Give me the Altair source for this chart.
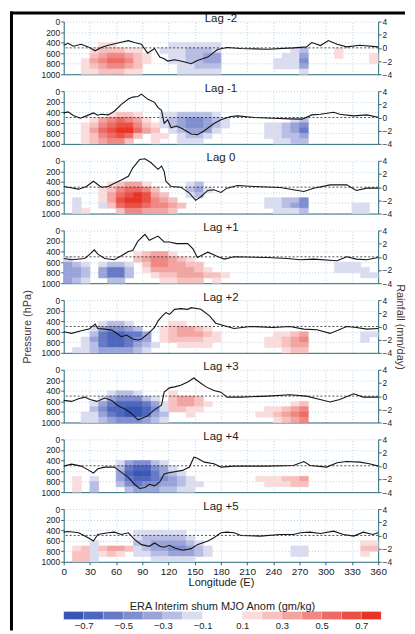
import altair as alt
import pandas as pd

# ---------------------------------------------------------------- data
LAGS = ["Lag -2", "Lag -1", "Lag 0", "Lag +1", "Lag +2", "Lag +3", "Lag +4", "Lag +5"]
PLEV = [300, 400, 500, 600, 700, 800, 900, 1000]          # row edges (hPa)
LON_STEP = 10                                              # column width (deg)
LON_TICKS = [0, 30, 60, 90, 120, 150, 180, 210, 240, 270, 300, 330, 360]
P_TICKS = [0, 200, 400, 600, 800, 1000]
R_TICKS = [-4, -2, 0, 2, 4]

# colour classes of the shum anomaly (gm/kg)
THRESH = [-0.7, -0.6, -0.5, -0.4, -0.3, -0.2, -0.1, 0.0, 0.1, 0.2, 0.3, 0.4, 0.5, 0.6, 0.7]
COLORS = ["#3956b5", "#4e67be", "#6679c6", "#7f8ecf", "#99a3d8", "#b7bde4", "#dadcf0", "#ffffff",
          "#ffffff", "#fadcdc", "#f6c1bf", "#f2a4a1", "#ef8783", "#ec6b65", "#ea5045", "#e83425"]
CB_LO = [-0.8, -0.7, -0.6, -0.5, -0.4, -0.3, -0.2, -0.1, 0.0, 0.1, 0.2, 0.3, 0.4, 0.5, 0.6, 0.7]
CB_HI = [-0.7, -0.6, -0.5, -0.4, -0.3, -0.2, -0.1, 0.0, 0.1, 0.2, 0.3, 0.4, 0.5, 0.6, 0.7, 0.8]
CB_MID = [-0.75, -0.65, -0.55, -0.45, -0.35, -0.25, -0.15, -0.05, 0.05, 0.15, 0.25, 0.35, 0.45, 0.55, 0.65, 0.75]
CB_LABELS = [-0.7, -0.5, -0.3, -0.1, 0.1, 0.3, 0.5, 0.7]
CB_TITLE = "ERA Interim shum MJO Anom (gm/kg)"

# class codes used in the grids below ('.' = no anomaly)
CODE = {".": 0.0,
        "1": 0.05, "2": 0.15, "3": 0.25, "4": 0.35, "5": 0.45, "6": 0.55, "7": 0.65, "8": 0.75,
        "a": -0.05, "b": -0.15, "c": -0.25, "d": -0.35, "e": -0.45, "f": -0.55, "g": -0.65, "h": -0.75}

# rows: 300-400 ... 900-1000 hPa ; columns: 0-10E ... 350-360E
GRID_M2 = ["..........|..........|..........|......",
           "....22....|..bbbbbb..|..........|......",
           "...233322.|.bbbcccb..|......bc..|.2....",
           "...3455432|..bbccdd..|.....bbd..|.2...2",
           "..24566532|..bbccdd..|....bbbe..|.....2",
           "..2345543.|...bbccc..|....bbbd..|......",
           "..2233322.|...bbbbb..|.......b..|......"]
GRID_M1 = ["..........|..........|..........|......",
           ".....2332.|.bbccccb..|..........|......",
           "...2456542|.bcdeedcb.|......bc..|......",
           "..23567753|2bcdeedcb.|...bbcde..|......",
           "..24678864|3.bcdddb..|...bbcdf..|......",
           "..2356763.|22.bccb...|...bbccd..|......",
           "..234553..|2..bbb....|....bbcc..|......"]
GRID_0 = ["..........|..........|..........|......",
          ".....23442|....bc....|..........|......",
          "....235665|3...cdb...|..........|......",
          "....246787|43..bc....|..........|......",
          ".b..247887|543.......|...bbcce..|......",
          ".b..b36776|5543......|...bbcde..|...bb.",
          ".b2...3554|443.......|....bbbc..|...bb."]
GRID_P1 = ["..........|..........|..........|......",
           "........23|442.......|..........|......",
           "b.......34|55432.....|..........|......",
           "dcb.bccb.3|554433....|..........|.bbb..",
           "ddc.dffc.2|4444432...|..........|.bbbb.",
           "ddc.dffc..|233444332.|..........|....bb",
           "dcb..cc...|.22333.2..|..........|......"]
GRID_P2 = ["..........|..........|..........|......",
           "....bccb..|..22......|..........|......",
           "...bdeedc.|.234432...|..........|......",
           "...cfggffd|.2344432..|....2234..|....bb",
           "..bdfggfed|.2333322..|...22345..|....b.",
           "..bcfggfdc|b..2222...|...22344..|......",
           ".bbcddddcb|..........|.....233..|......"]
GRID_P3 = ["..........|..........|..........|......",
           ".....bccb.|..2.......|..........|......",
           "....bdeeec|b.3443....|..........|......",
           "...bdfgggf|db34432...|......23..|......",
           "...cegghhg|eb3322....|...22345..|......",
           "..bbdfghhg|dc..2.....|..223456..|......",
           "..bbcdeeed|cb........|....2345..|......"]
GRID_P4 = ["..........|..........|..........|......",
           "......bdee|cb........|..........|......",
           "......cfgg|edb.......|..........|......",
           "......dghh|fdcb......|..........|......",
           ".2.b..dfgg|fedcb.....|..222334..|......",
           ".2.c..cefe|eddcbb....|...22233..|......",
           ".2.c...cdd|dccbb.....|..........|......"]
GRID_P5 = ["..........|..........|..........|......",
           "........bb|bbbb......|..........|......",
           "........bc|ccccb.....|..........|......",
           "...b....cc|ddddcb....|..........|....22",
           ".23b3443bc|ddeedcb...|......bb..|....33",
           ".33b232.bb|ccdddcb...|......bb..|....2.",
           ".33b......|bbbbb.....|..........|......"]
GRIDS = [GRID_M2, GRID_M1, GRID_0, GRID_P1, GRID_P2, GRID_P3, GRID_P4, GRID_P5]

# rainfall anomaly (mm/day) along longitude
LON_M2 = [0, 5, 11, 20, 28, 36, 43, 51, 62, 74, 81, 89, 96, 104, 110, 115, 119, 127, 134, 146, 153, 165, 176, 187, 203, 233, 263, 278, 284, 294, 303, 313, 324, 339, 360]
RAIN_M2 = [0.4, 0.7, 0.25, 0.55, 0.15, -0.45, 0.05, 0.4, 0.75, 1.1, 0.8, 0.55, -0.8, -0.1, -1.4, -1.65, -2.0, -1.8, -2.0, -2.4, -1.9, -1.4, -0.25, 0.05, -0.1, -0.2, 0.0, 0.15, 0.8, 0.35, 1.1, 0.55, 0.15, 0.4, 0.15]
LON_M1 = [0, 5, 11, 19, 26, 34, 39, 43, 51, 58, 66, 74, 79, 85, 89, 96, 104, 108, 112, 115, 119, 123, 129, 136, 146, 153, 161, 172, 180, 191, 199, 218, 240, 259, 273, 284, 294, 309, 316, 332, 347, 360]
RAIN_M1 = [0.7, 0.85, 0.3, -0.1, 0.25, 0.7, 0.35, 0.5, 0.4, 0.95, 2.0, 2.8, 3.1, 3.2, 3.55, 2.8, 2.3, 1.5, 1.1, -0.9, -0.35, -1.55, -1.3, -1.7, -2.5, -2.6, -2.0, -0.9, -0.35, 0.15, 0.25, 0.0, -0.1, -0.2, -0.25, 0.4, 0.5, 0.8, 0.5, 0.25, 0.4, 0.05]
LON_0 = [0, 5, 17, 26, 34, 43, 51, 58, 66, 74, 79, 87, 93, 100, 108, 112, 115, 117, 123, 134, 144, 151, 157, 165, 172, 180, 187, 199, 218, 248, 263, 275, 286, 305, 324, 335, 347, 360]
RAIN_0 = [0.1, 0.0, -0.3, 0.1, 0.9, 0.0, 0.1, 0.6, 1.1, 1.65, 2.9, 4.2, 4.3, 3.7, 2.7, 3.2, 2.4, 0.9, 0.1, 0.0, -0.9, -2.0, -1.45, -0.5, -0.4, -0.8, -0.15, 0.25, 0.1, -0.05, -0.4, -0.65, -0.15, 0.35, 0.35, -0.5, -0.15, -0.15]
LON_P1 = [0, 9, 24, 30, 35, 39, 47, 58, 66, 74, 79, 85, 93, 98, 108, 115, 121, 129, 142, 148, 153, 165, 176, 184, 195, 233, 256, 271, 286, 313, 324, 335, 347, 360]
RAIN_P1 = [-0.25, -0.45, -0.25, 0.4, 1.05, 0.4, -0.25, -0.45, 0.15, 0.8, 0.95, 2.4, 3.4, 2.5, 3.15, 2.25, 2.25, 2.0, 2.0, 1.2, -0.1, 0.7, 0.05, -0.35, 0.0, -0.1, -0.25, -0.45, -0.35, -0.6, 0.0, -0.35, -0.45, -0.1]
LON_P2 = [0, 9, 20, 29, 36, 39, 47, 55, 60, 66, 72, 79, 85, 89, 96, 104, 108, 113, 117, 121, 127, 134, 142, 146, 157, 167, 174, 184, 195, 214, 240, 259, 275, 290, 305, 324, 335, 347, 360]
RAIN_P2 = [-0.8, -1.05, -0.65, -0.4, 0.35, -0.3, -0.4, -0.55, -1.0, -1.55, -1.3, -1.9, -2.05, -1.9, -1.15, -0.15, 0.85, 1.6, 2.1, 1.85, 2.6, 2.7, 2.6, 2.85, 2.6, 1.6, 0.5, 0.1, -0.3, 0.0, -0.15, 0.0, -0.4, -0.5, -1.05, 0.0, -0.15, -0.4, -0.3]
LON_P3 = [0, 9, 17, 24, 30, 38, 47, 55, 62, 70, 77, 85, 89, 96, 104, 110, 112, 115, 121, 127, 134, 142, 149, 155, 163, 172, 180, 187, 203, 233, 259, 278, 290, 305, 316, 332, 343, 360]
RAIN_P3 = [-0.65, -0.8, -0.4, -0.15, -0.5, -0.8, -0.3, -0.65, -1.45, -1.95, -2.55, -3.6, -3.4, -3.0, -2.05, -1.55, -1.35, 0.6, 1.25, 1.4, 1.65, 2.15, 2.75, 2.15, 1.4, 0.85, 0.6, -0.15, -0.15, 0.0, 0.2, 0.0, -0.4, -0.9, -0.5, 0.35, -0.15, -0.15]
LON_P4 = [0, 9, 20, 29, 34, 39, 47, 58, 66, 74, 81, 87, 93, 98, 104, 110, 115, 119, 127, 136, 144, 149, 153, 161, 172, 180, 195, 233, 263, 275, 282, 301, 313, 324, 339, 350, 360]
RAIN_P4 = [-0.05, 0.25, -0.05, -0.7, -1.1, -0.45, -0.2, -0.2, -1.0, -1.75, -2.8, -3.45, -3.3, -2.8, -3.05, -2.45, -1.25, -1.1, -0.9, -0.7, -0.2, 1.3, 1.15, 0.55, 0.3, -0.2, -0.05, -0.05, 0.05, 0.65, 0.05, -0.2, 0.45, 0.65, 0.55, 0.3, -0.05]
LON_P5 = [0, 5, 17, 28, 34, 39, 51, 58, 66, 74, 81, 89, 98, 104, 110, 115, 121, 127, 136, 146, 153, 165, 172, 180, 187, 195, 203, 225, 248, 263, 271, 282, 294, 309, 320, 332, 343, 354, 360]
RAIN_P5 = [0.5, 0.6, 0.4, -0.35, -0.85, 0.15, 0.4, 0.5, 0.15, 0.4, -0.6, -1.4, -1.65, -1.15, -1.65, -1.8, -1.5, -1.9, -2.25, -2.0, -1.4, -0.85, -0.35, 0.4, 0.5, 0.4, 0.0, -0.1, 0.15, 0.15, 0.4, 0.5, 0.3, 0.65, 0.15, -0.1, 0.5, 0.15, 0.4]
RAIN_LONS = [LON_M2, LON_M1, LON_0, LON_P1, LON_P2, LON_P3, LON_P4, LON_P5]
RAIN_VALS = [RAIN_M2, RAIN_M1, RAIN_0, RAIN_P1, RAIN_P2, RAIN_P3, RAIN_P4, RAIN_P5]

# ---------------------------------------------------------------- style
FONT = "Liberation Sans"
AXC = "#2d6b7a"
GRIDC = "#a6c8e0"
TITLEC = "#4a3430"
TXT = "#222222"
PW, PH = 316, 53

XS = alt.Scale(domain=[0, 360], nice=False, zero=False)
PS = alt.Scale(domain=[0, 1000], reverse=True, nice=False)
RS = alt.Scale(domain=[-4, 4], nice=False)
CS = alt.Scale(type="threshold", domain=THRESH, range=COLORS)


def grid_frame(grid):
    cells = []
    for r, row in enumerate(grid):
        row = row.replace("|", "")
        for c, ch in enumerate(row):
            v = CODE[ch]
            if abs(v) < 0.1:
                continue
            cells.append({"lon0": c * LON_STEP, "lon1": (c + 1) * LON_STEP,
                          "p0": PLEV[r], "p1": PLEV[r + 1], "v": v})
    return pd.DataFrame(cells)


def make_panel(i):
    last = i == len(LAGS) - 1
    mid = i == 4
    xkw = dict(values=LON_TICKS, grid=True, gridDash=[1, 2], gridColor=GRIDC, gridWidth=0.8,
               domainColor=AXC, domainWidth=1, labels=last, ticks=last, tickColor=AXC, tickSize=3,
               labelFontSize=10, labelPadding=2, labelFlush=False, titleFontSize=11,
               titleFontWeight="normal", titlePadding=0, titleColor=TXT)
    xkw["title"] = "Longitude (E)" if last else None
    xaxis = alt.Axis(**xkw)
    ykw = dict(values=P_TICKS, format="d", grid=True, gridDash=[1, 2], gridColor=GRIDC,
               gridWidth=0.8, domainColor=AXC, tickColor=AXC, tickSize=3, labelFontSize=8.5,
               labelPadding=1, labelFlush=False, titleFontSize=11, titleFontWeight="normal",
               titlePadding=8, titleColor=TITLEC)
    ykw["title"] = "Pressure (hPa)" if mid else None
    yaxis = alt.Axis(**ykw)
    rkw = dict(orient="right", values=R_TICKS, format="d", grid=False, domainColor=AXC,
               tickColor=AXC, tickSize=3, labelFontSize=8.5, labelPadding=1, labelFlush=False,
               titleFontSize=11, titleFontWeight="normal", titlePadding=3, titleColor=TITLEC)
    rkw["title"] = "Rainfall (mm/day)" if mid else None
    raxis = alt.Axis(**rkw)

    heat = alt.Chart(grid_frame(GRIDS[i])).mark_rect(strokeWidth=0.6).encode(
        x=alt.X("lon0:Q", scale=XS, axis=xaxis), x2="lon1:Q",
        y=alt.Y("p0:Q", scale=PS, axis=yaxis), y2="p1:Q",
        color=alt.Color("v:Q", scale=CS, legend=None),
        stroke=alt.Stroke("v:Q", scale=CS, legend=None),
    )
    rdf = pd.DataFrame({"lon": RAIN_LONS[i], "rain": RAIN_VALS[i]})
    zero = alt.Chart(pd.DataFrame({"z": [0]})).mark_rule(
        color=TXT, strokeWidth=0.8, strokeDash=[2, 2]).encode(
        y=alt.Y("z:Q", scale=RS, axis=raxis))
    line = alt.Chart(rdf).mark_line(color="#151515", strokeWidth=1.1).encode(
        x=alt.X("lon:Q", scale=XS, axis=xaxis),
        y=alt.Y("rain:Q", scale=RS, axis=raxis))
    rain = alt.layer(zero, line)
    ttl = alt.Chart(pd.DataFrame({"t": [LAGS[i]]})).mark_text(
        font=FONT, fontSize=11.5, color=TXT, baseline="alphabetic", align="center").encode(
        text="t:N", x=alt.value(PW / 2), y=alt.value(0.5))
    layers = [heat, rain, ttl]
    if i == 0:
        bdf = pd.DataFrame({"k": [0]})
        vline = alt.Chart(bdf).mark_rule(color="black", strokeWidth=3).encode(
            x=alt.value(-52.5), y=alt.value(-10), y2=alt.value(612))
        hline = alt.Chart(bdf).mark_rule(color="black", strokeWidth=3).encode(
            x=alt.value(-54), x2=alt.value(343), y=alt.value(-8.5))
        layers += [vline, hline]
    return alt.layer(*layers).resolve_scale(y="independent").properties(width=PW, height=PH)


panels = [make_panel(i) for i in range(len(LAGS))]

# colour bar, drawn in its own small panel under the last plot
cb_df = pd.DataFrame({"lo": CB_LO, "hi": CB_HI, "mid": CB_MID})
CBX = alt.Scale(domain=[-0.8, 0.8], nice=False, zero=False)
cb_axis = alt.Axis(values=CB_LABELS, format=".1f", ticks=False, domain=False, grid=False,
                   labelFontSize=9.5, labelPadding=1, labelFlush=False, title=None)
cb_rects = alt.Chart(cb_df).mark_rect(stroke="white", strokeWidth=0.4, strokeOpacity=0.5).encode(
    x=alt.X("lo:Q", scale=CBX, axis=cb_axis), x2="hi:Q",
    y=alt.value(33), y2=alt.value(41),
    color=alt.Color("mid:Q", scale=CS, legend=None),
)
cb_title = alt.Chart(pd.DataFrame({"t": [CB_TITLE]})).mark_text(
    font=FONT, fontSize=11, color=TXT, baseline="alphabetic", align="center").encode(
    text="t:N", x=alt.value(319 / 2), y=alt.value(31))
colorbar = alt.layer(cb_rects, cb_title).properties(width=319, height=41)

chart = alt.vconcat(*panels, colorbar, spacing=17, bounds="flush").properties(
    padding=0
).configure_view(stroke="transparent").configure_axis(
    labelFont=FONT, titleFont=FONT, labelColor=TXT
)

chart.save("out.html", embed_options={"renderer": "svg", "actions": False})
